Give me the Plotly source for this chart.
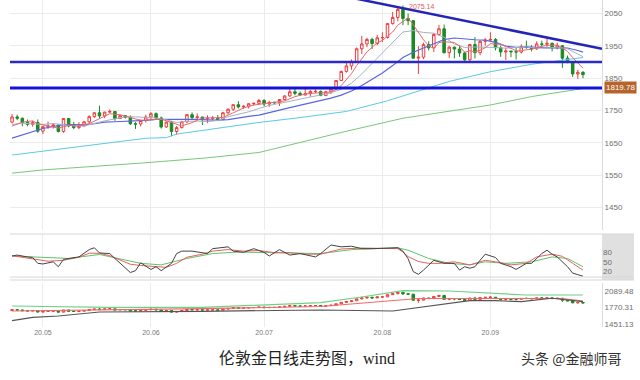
import plotly.graph_objects as go
import pandas as pd

# ---------------- data ----------------
dates = pd.bdate_range("2020-04-23", "2020-09-25")
days = list(range(len(dates)))

open_ = [1714,1730,1726,1713,1707,1713,1686,1700,1702,1705,1685,1725,1702,1697,1702,1715,1731,1743,1733,1745,
         1747,1725,1734,1729,1709,1708,1719,1730,1740,1727,1699,1714,1685,1697,1715,1737,1728,1730,1725,1726,
         1726,1722,1743,1754,1768,1761,1763,1771,1772,1781,1770,1775,1774,1784,1795,1808,1803,1798,1802,1809,
         1809,1796,1808,1817,1843,1871,1888,1902,1941,1956,1970,1957,1975,1976,2019,2038,2063,2035,2028,1912,
         1915,1954,1944,1985,2003,1929,1946,1940,1928,1907,1954,1929,1964,1968,1970,1944,1931,1934,1932,1931,
         1947,1946,1941,1956,1955,1958,1944,1950,1912,1900,1863,1868]
high = [1739,1737,1728,1722,1718,1722,1702,1716,1710,1707,1722,1727,1715,1714,1718,1735,1744,1765,1746,1753,
        1747,1737,1736,1735,1714,1722,1737,1745,1744,1731,1716,1718,1702,1718,1739,1744,1741,1730,1735,1733,
        1736,1746,1756,1768,1779,1766,1772,1775,1786,1785,1780,1777,1785,1797,1818,1818,1809,1817,1813,1815,
        1812,1811,1820,1844,1873,1899,1908,1945,1981,1975,1975,1984,1992,2021,2055,2069,2075.14,2050,2030,1949,
        1960,1964,1989,2015,2016,1950,1948,1953,1932,1956,1977,1967,1974,1992,1974,1951,1944,1935,1944,1955,
        1966,1952,1964,1966,1973,1960,1960,1953,1920,1903,1876,1872]
low = [1710,1720,1701,1701,1700,1681,1677,1693,1694,1682,1681,1698,1692,1692,1701,1710,1727,1726,1726,1742,
       1718,1724,1725,1705,1693,1701,1713,1723,1721,1694,1696,1670,1675,1694,1711,1723,1720,1705,1711,1718,
       1717,1720,1737,1748,1756,1755,1756,1765,1767,1763,1761,1770,1764,1781,1792,1797,1795,1797,1793,1803,
       1795,1795,1801,1814,1841,1867,1876,1900,1925,1946,1940,1952,1962,1973,2016,2026,2014,2014,1911,1863,
       1909,1936,1931,1981,1926,1912,1911,1916,1901,1899,1911,1921,1951,1963,1936,1916,1906,1915,1908,1926,
       1941,1933,1937,1946,1947,1933,1939,1882,1896,1854,1848,1850]
close = [1730,1726,1713,1707,1713,1686,1700,1702,1705,1685,1725,1702,1697,1702,1715,1731,1743,1733,1745,1747,
         1725,1734,1729,1709,1708,1719,1730,1740,1727,1699,1714,1685,1697,1715,1737,1728,1730,1725,1726,1726,
         1722,1743,1754,1768,1761,1763,1771,1772,1781,1770,1775,1774,1784,1795,1808,1803,1798,1802,1809,1809,
         1796,1808,1817,1843,1871,1888,1902,1941,1956,1970,1957,1975,1976,2019,2038,2063,2035,2028,1912,1915,
         1954,1944,1985,2003,1929,1946,1940,1928,1907,1954,1929,1964,1968,1970,1944,1931,1934,1932,1931,1947,
         1946,1941,1956,1955,1958,1944,1950,1912,1900,1863,1868,1861]

ma5_days = [0,2,4,5,7,9,11,13,15,17,19,21,23,25,27,29,31,33,35,37,39,41,43,45,47,49,51,53,55,57,59,61] + list(range(62, 112))
ma5_vals = [1701.6,1713.8,1717.8,1709,1701.6,1695.6,1703.8,1702.2,1709.4,1724.8,1739.8,1736.8,1728.8,1719.8,1721.2,1723,
            1713,1702,1712.4,1727,1727,1728.4,1742.6,1757.8,1767,1771.4,1774.4,1779.6,1792.8,1801.2,1804.2,1804.8,
            1807.8,1814.6,1827,1845.4,1864.2,1889,1911.6,1931.4,1945.2,1959.8,1966.8,1979.4,1993,2014.2,2026.2,2036.6,
            2015.2,1990.6,1968.8,1950.6,1942,1960.2,1963,1961.4,1960.6,1949.2,1930,1935,1931.6,1936.4,1944.4,1957,
            1955,1955.4,1949.4,1942.2,1934.4,1935,1938,1939.4,1944.2,1949,1951.2,1950.8,1952.6,1943.8,1932.8,1913.8,
            1898.6,1880.8]

ma10_days = list(range(0, 112, 2)) + [111]
ma10_vals = [1706.4,1710.7,1708.4,1707,1709.6,1706.2,1702.2,1701.9,1710.7,1717.8,1724,1730.4,1730.4,1727.9,1726.8,
             1720.9,1712.8,1716.3,1717.2,1715.6,1719.1,1730.6,1738.3,1745.9,1756.1,1765.8,1771.9,1779.3,1786,1791.8,
             1797.8,1804.5,1815.6,1834.5,1863.1,1895.3,1927.9,1962.2,1993,1997.3,1991.5,1989.3,1976.8,1955.6,1945.1,
             1946.5,1946.8,1945,1942.9,1945.7,1946.7,1943.2,1943.1,1946,1940.9,1924.7,1916.7]

ma20_days = list(range(0, 112, 2)) + [111]
ma20_vals = [1664.5,1674,1685,1694.2,1700.5,1706.3,1706.5,1705.2,1708.9,1713.7,1715.1,1716.3,1716.2,1719.3,1722.3,
             1722.5,1721.6,1723.4,1722.6,1721.2,1720,1721.7,1727.3,1731.6,1735.9,1742.5,1751.3,1758.8,1766,1774,
             1781.8,1788.2,1797.5,1810.3,1827.5,1846.6,1866.2,1888.9,1913.8,1930.2,1943.4,1958.6,1969.5,1974.3,1971.2,
             1969,1968,1960.9,1949.3,1945.4,1946.6,1945,1944,1944.5,1943.3,1935.7,1930.6]

ma60_days = [0, 26, 30, 32, 40, 48, 55, 65, 73, 77, 85, 93, 101, 111]
ma60_vals = [1612, 1664, 1666, 1677, 1695, 1713, 1726, 1747, 1780, 1800, 1840, 1870, 1893, 1914]

ma120_days = [0, 6, 25, 37, 48, 64, 76, 85, 93, 101, 109, 111]
ma120_vals = [1556, 1566, 1587, 1602, 1620, 1682, 1726, 1747, 1767, 1793, 1814, 1818]

trend_days = [66, 114.7]
trend_vals = [2099, 1941]
support_levels = [1900, 1819.78]
peak_label = 2075.14
peak_day = 76

kdj_j_days = [0,1,3,4,5,6,8,9,10,11,13,15,16,17,19,20,22,23,24,25,27,28,29,31,32,33,35,38,39,42,43,45,47,49,50,52,
              54,56,59,60,62,64,66,68,70,73,75,76,77,78,79,80,82,84,86,87,88,89,90,91,92,94,95,97,98,100,101,103,
              104,105,106,108,109,110,111]
kdj_j_vals = [69,72,66,64,45,43,50,34,58,61,66,90,96,79,77,61,29,15,21,47,25,34,21,45,77,85,85,77,93,99,85,81,93,81,
              69,90,72,77,66,77,105,99,101,93,93,96,96,85,60,18,9,23,55,45,45,23,34,29,34,55,75,64,45,34,25,45,45,77,
              88,75,66,34,13,8,3]
kdj_k_days = [0,4,7,10,13,15,17,19,21,23,25,28,30,32,34,37,39,42,45,48,51,54,57,60,64,68,72,75,76,77,79,81,83,86,89,
              92,94,97,100,102,105,107,109,111]
kdj_k_vals = [70,60,52,55,65,78,78,70,55,42,38,35,32,45,65,75,85,90,85,87,80,80,75,75,92,95,95,93,82,67,51,45,45,50,
              40,55,50,40,45,66,75,68,45,23]
kdj_d_days = [0,11,17,25,29,34,39,44,50,60,66,75,77,81,85,89,92,96,101,105,108,111]
kdj_d_vals = [69,61,74,45,40,61,77,82,80,77,90,96,88,61,45,40,50,45,50,66,61,34]

band_up_days = [0, 19, 37, 50, 60, 68, 76, 85, 100, 111]
band_up_vals = [1802, 1777, 1777, 1821, 1865, 1974, 2095, 2089, 2013, 2013]
band_mid_days = [0, 17, 37, 60, 73, 79, 99, 107, 111]
band_mid_vals = [1706, 1725, 1750, 1792, 1907, 1946, 1946, 1946, 1898]
band_low_days = [0, 4, 9, 17, 37, 60, 74, 83, 89, 94, 99, 105, 111]
band_low_vals = [1520, 1585, 1610, 1687, 1700, 1725, 1706, 1821, 1904, 1904, 1884, 1950, 1884]

bottom_ticks = [1451.13, 1770.31, 2089.48]

month_first = [i for i in range(1, len(dates)) if dates[i].month != dates[i - 1].month]
month_text = [dates[i].strftime("%y.%m") for i in month_first]

# ---------------- styles ----------------
RED = "#f03c3c"
GREEN = "#1b8a24"
TICKFONT = dict(family="Liberation Sans, Arial, sans-serif", size=8, color="#6e6e6e")

fig = go.Figure()

def line(xs, ys, color, width=1, yaxis="y"):
    fig.add_trace(go.Scatter(x=xs, y=ys, mode="lines", line=dict(color=color, width=width),
                             yaxis=yaxis, hoverinfo="skip", showlegend=False))

# main panel moving averages
line(ma120_days, ma120_vals, "#78c878", 1)
line(ma60_days, ma60_vals, "#5cc9e6", 1)
line(ma20_days, ma20_vals, "#5866e0", 1.2)
line(ma10_days, ma10_vals, "#a4b2c6", 1)

fig.add_trace(go.Candlestick(
    x=days, open=open_, high=high, low=low, close=close,
    increasing=dict(line=dict(color=RED, width=1), fillcolor="white"),
    decreasing=dict(line=dict(color=GREEN, width=1), fillcolor=GREEN),
    whiskerwidth=0, hoverinfo="skip", showlegend=False, yaxis="y"))

line(ma5_days, ma5_vals, "#e86a6a", 1)
line(trend_days, trend_vals, "#2424b8", 2.5)

# KDJ panel
line(kdj_d_days, kdj_d_vals, "#5cc46a", 1, "y2")
line(kdj_k_days, kdj_k_vals, "#ea6060", 1, "y2")
line(kdj_j_days, kdj_j_vals, "#444444", 1, "y2")

# bottom overview panel
line(band_up_days, band_up_vals, "#6fd08a", 1.2, "y3")
line(band_mid_days, band_mid_vals, "#f06a6a", 1.2, "y3")
line(band_low_days, band_low_vals, "#555555", 1.2, "y3")
fig.add_trace(go.Candlestick(
    x=days, open=open_, high=high, low=low, close=close,
    increasing=dict(line=dict(color=RED, width=1), fillcolor="white"),
    decreasing=dict(line=dict(color=GREEN, width=1), fillcolor=GREEN),
    whiskerwidth=0, hoverinfo="skip", showlegend=False, yaxis="y3"))

shapes = [
    dict(type="line", xref="x domain", yref="y", x0=0, x1=1, y0=support_levels[0], y1=support_levels[0],
         line=dict(color="#2a2ac4", width=2.5)),
    dict(type="line", xref="x domain", yref="y", x0=0, x1=1, y0=support_levels[1], y1=support_levels[1],
         line=dict(color="#1414d8", width=3)),
    dict(type="rect", xref="paper", yref="y2 domain", x0=1.0, x1=1.054, y0=0, y1=1,
         fillcolor="#e0e0e0", line=dict(width=0), layer="below"),
    dict(type="line", xref="paper", yref="y2 domain", x0=0, x1=1.054, y0=1, y1=1,
         line=dict(color="#d6d6d6", width=1)),
    dict(type="line", xref="paper", yref="y2", x0=0, x1=1.054, y0=0, y1=0,
         line=dict(color="#d6d6d6", width=1)),
    dict(type="line", xref="paper", yref="y2 domain", x0=0, x1=1.054, y0=0, y1=0,
         line=dict(color="#d6d6d6", width=1)),
]

annotations = [
    dict(x=peak_day + 0.8, y=peak_label, xref="x", yref="y", text=f"{peak_label:.2f}", showarrow=False,
         xanchor="left", yanchor="middle", yshift=-1,
         font=dict(family="Liberation Sans, Arial, sans-serif", size=7, color="#e05a5a")),
    dict(x=1.0, y=support_levels[1], xref="paper", yref="y", text=f"{support_levels[1]:.2f}", showarrow=False,
         xanchor="left", yanchor="middle", xshift=2, bgcolor="#b5652b", borderpad=1,
         font=dict(family="Liberation Sans, Arial, sans-serif", size=8, color="white")),
    dict(x=0.502, y=-0.095, xref="paper", yref="paper", text="伦敦金日线走势图，wind", showarrow=False,
         xanchor="center", yanchor="middle",
         font=dict(family="Liberation Serif, Noto Sans CJK SC, serif", size=16, color="#222222")),
    dict(x=0.948, y=-0.095, xref="paper", yref="paper", text="头条 @金融师哥", showarrow=False,
         xanchor="center", yanchor="middle",
         font=dict(family="Noto Sans CJK SC, sans-serif", size=14, color="#333333")),
]

fig.update_layout(
    width=640, height=380,
    margin=dict(l=10, r=38, t=0, b=53),
    paper_bgcolor="white", plot_bgcolor="white",
    showlegend=False,
    xaxis=dict(range=[-0.4, 114.7], tickvals=month_first, ticktext=month_text, showgrid=True,
               gridcolor="#ececec", gridwidth=1, zeroline=False, showline=False, ticks="",
               tickfont=dict(family="Liberation Sans, Arial, sans-serif", size=7, color="#777777"),
               rangeslider=dict(visible=False), anchor="y3", fixedrange=True),
    yaxis=dict(domain=[0.2966, 1], range=[1380, 2092], side="right", anchor="x",
               tickvals=[1450, 1550, 1650, 1750, 1850, 1950, 2050], showgrid=True, gridcolor="#ebebeb",
               zeroline=False, showline=True, linecolor="#dcdcdc", ticks="", tickfont=TICKFONT),
    yaxis2=dict(domain=[0.1437, 0.2844], range=[-9.5, 141], side="right", anchor="x",
                tickvals=[20, 50, 80], showgrid=False, zeroline=False, showline=False, ticks="",
                tickfont=TICKFONT),
    yaxis3=dict(domain=[0, 0.1346], range=[1399, 2243], side="right", anchor="x",
                tickvals=bottom_ticks, ticktext=[f"{v:.2f}" for v in bottom_ticks], showgrid=False,
                zeroline=False, showline=True, linecolor="#dcdcdc", ticks="", tickfont=TICKFONT),
    shapes=shapes,
    annotations=annotations,
)

fig.write_html("out.html", config={"displayModeBar": False},
               post_script="document.body.style.margin='0px';document.body.style.padding='0px';")
